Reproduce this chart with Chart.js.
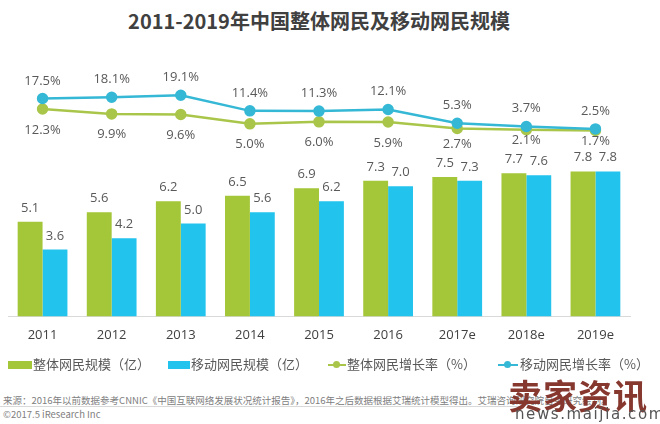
<!DOCTYPE html>
<html>
<head>
<meta charset="utf-8">
<script src="https://cdn.jsdelivr.net/npm/chart.js@4"></script>
<style>
  body { margin: 0; width: 660px; height: 424px; background: #fff; position: relative; overflow: hidden;
         font-family: "Noto Sans CJK SC", "Noto Sans", sans-serif; }
  .title { position: absolute; top: 6px; left: 0; width: 638px; text-align: center;
           font-size: 20px; font-weight: bold; color: #404040; }
  #wrap { position: absolute; left: 0; top: 0; width: 660px; height: 362px; }
  .leg { position: absolute; top: 355px; font-size: 13px; color: #595959; line-height: 18px; white-space: nowrap; }
  .sw { position: absolute; top: 361px; height: 8px; }
  .ln { position: absolute; top: 364px; height: 2px; }
  .dot { position: absolute; top: 361px; width: 7px; height: 7px; border-radius: 50%; }
  .src { position: absolute; left: 3px; top: 393px; font-size: 9.5px; color: #808080; white-space: nowrap; }
  .rule { position: absolute; left: 0; top: 406px; width: 520px; height: 1px; background: #d9d9d9; }
  .copy { position: absolute; left: 3px; top: 407px; font-size: 9.5px; color: #808080; }
  .wm1 { position: absolute; left: 508px; top: 370px; font-size: 34px; font-weight: bold; color: #86382f; letter-spacing: 1px; }
  .wm2 { position: absolute; left: 515px; top: 405px; font-size: 15px; color: #555; letter-spacing: 1.6px;
         font-family: "DejaVu Sans", sans-serif; }
</style>
</head>
<body>
<div class="title">2011-2019年中国整体网民及移动网民规模</div>
<div id="wrap"><canvas id="chart"></canvas></div>

<div class="sw" style="left:8px;width:24px;background:#a4c639"></div>
<div class="leg" style="left:33px">整体网民规模（亿）</div>
<div class="sw" style="left:168px;width:22px;background:#22c3ed"></div>
<div class="leg" style="left:191px">移动网民规模（亿）</div>
<div class="ln" style="left:328px;width:18px;background:#a9c64a"></div>
<div class="dot" style="left:333px;background:#a9c64a"></div>
<div class="leg" style="left:347px">整体网民增长率（%）</div>
<div class="ln" style="left:498px;width:20px;background:#35b8d5"></div>
<div class="dot" style="left:504px;background:#35b8d5"></div>
<div class="leg" style="left:520px">移动网民增长率（%）</div>

<div class="src">来源：2016年以前数据参考CNNIC《中国互联网络发展状况统计报告》，2016年之后数据根据艾瑞统计模型得出。艾瑞咨询研究院自主研究绘制。</div>
<div class="rule"></div>
<div class="copy">©2017.5 iResearch Inc</div>
<div class="wm1">卖家资讯</div>
<div class="wm2">news.maijia.com</div>

<script>
const categories = ["2011", "2012", "2013", "2014", "2015", "2016", "2017e", "2018e", "2019e"];
const totalUsers = [5.1, 5.6, 6.2, 6.5, 6.9, 7.3, 7.5, 7.7, 7.8];
const mobileUsers = [3.6, 4.2, 5.0, 5.6, 6.2, 7.0, 7.3, 7.6, 7.8];
const totalGrowth = [12.3, 9.9, 9.6, 5.0, 6.0, 5.9, 2.7, 2.1, 1.7];
const mobileGrowth = [17.5, 18.1, 19.1, 11.4, 11.3, 12.1, 5.3, 3.7, 2.5];

// value labels drawn on top of bars and points
const valueLabels = {
  id: "valueLabels",
  afterDatasetsDraw(chart) {
    const ctx = chart.ctx;
    const green = chart.getDatasetMeta(0).data;
    const blue = chart.getDatasetMeta(1).data;
    const gLine = chart.getDatasetMeta(2).data;
    const bLine = chart.getDatasetMeta(3).data;
    ctx.save();
    ctx.font = '13px "Open Sans", sans-serif';
    ctx.fillStyle = "#595959";
    ctx.textAlign = "center";
    ctx.textBaseline = "alphabetic";
    green.forEach((el, i) => ctx.fillText(totalUsers[i].toFixed(1), el.x, el.y - 10));
    blue.forEach((el, i) => ctx.fillText(mobileUsers[i].toFixed(1), el.x, el.y - 10));
    bLine.forEach((pt, i) => ctx.fillText(mobileGrowth[i].toFixed(1) + "%", pt.x, pt.y - 14));
    gLine.forEach((pt, i) => {
      // keep the label between the point and the bar labels
      let top = Math.min(pt.y + 15, green[i].y - 39);
      top = Math.max(top, pt.y + 5);
      ctx.fillText(totalGrowth[i].toFixed(1) + "%", pt.x, top + 9.5);
    });
    ctx.restore();
  }
};

new Chart(document.getElementById("chart"), {
  type: "bar",
  data: {
    labels: categories,
    datasets: [
      { label: "整体网民规模（亿）", data: totalUsers, backgroundColor: "#a4c639", yAxisID: "y", order: 2,
        barPercentage: 1, categoryPercentage: 0.72 },
      { label: "移动网民规模（亿）", data: mobileUsers, backgroundColor: "#22c3ed", yAxisID: "y", order: 2,
        barPercentage: 1, categoryPercentage: 0.72 },
      { type: "line", label: "整体网民增长率（%）", data: totalGrowth, borderColor: "#a9c64a",
        backgroundColor: "#a9c64a", borderWidth: 2.5, pointRadius: 4.5, yAxisID: "y1", order: 1 },
      { type: "line", label: "移动网民增长率（%）", data: mobileGrowth, borderColor: "#35b8d5",
        backgroundColor: "#35b8d5", borderWidth: 2.5, pointRadius: 4.5, yAxisID: "y1", order: 0 }
    ]
  },
  options: {
    responsive: true,
    maintainAspectRatio: false,
    animation: false,
    layout: { padding: { left: 8, right: 30, top: 60, bottom: 8 } },
    plugins: { legend: { display: false }, tooltip: { enabled: false } },
    scales: {
      x: {
        grid: { display: false, drawTicks: false },
        border: { display: true, color: "#d9d9d9", width: 1 },
        ticks: { color: "#404040", font: { size: 13, family: '"Open Sans", sans-serif' }, padding: 11 }
      },
      y: { display: false, min: 0, max: 13.8 },
      y1: { display: false, min: -90, max: 36.5 }
    }
  },
  plugins: [valueLabels]
});
</script>
</body>
</html>
